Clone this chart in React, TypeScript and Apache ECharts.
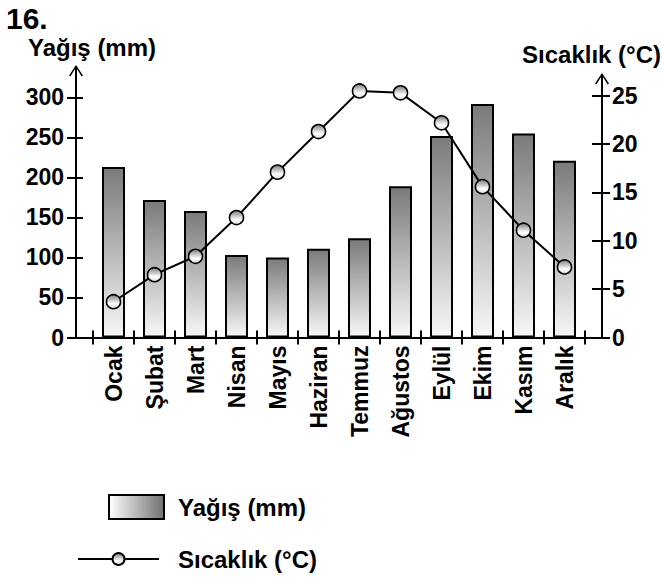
import React, { useEffect, useRef } from "react";
import * as echarts from "echarts";

const months = ["Ocak", "Şubat", "Mart", "Nisan", "Mayıs", "Haziran", "Temmuz", "Ağustos", "Eylül", "Ekim", "Kasım", "Aralık"];
const rainfall = [213, 172, 158, 103, 100, 111, 124, 189, 252, 292, 255, 221];
const temperature = [3.7, 6.5, 8.4, 12.4, 17.1, 21.3, 25.5, 25.3, 22.2, 15.6, 11.1, 7.3];
const rainTicks = [0, 50, 100, 150, 200, 250, 300];
const tempTicks = [0, 5, 10, 15, 20, 25];

const FONT = '"Liberation Sans", Arial, sans-serif';

export default function App() {
  const ref = useRef<HTMLDivElement>(null);
  useEffect(() => {
    document.body.style.margin = "0";
    const chart = echarts.init(ref.current!, null, { renderer: "svg" });
    const catIdx = months.map((_, i) => i);
    const bounds = months.map((_, i) => i - 0.5).concat([months.length - 0.5]);
    const arrowR = "path://M7,0L14,10.6L12.7,11.4L7,2.6L1.3,11.4L0,10.6Z M6,1L8,1L8,12L6,12Z";
    const arrowL = "path://M7,0L14,10.6L12.7,11.4L7,2.6L1.3,11.4L0,10.6Z M6,1L8,1L8,28L6,28Z";
    const barGrad = new echarts.graphic.LinearGradient(0, 0, 0, 1, [
      { offset: 0, color: "#7a7a7a" },
      { offset: 1, color: "#f7f7f7" },
    ]);
    const legendGrad = new echarts.graphic.LinearGradient(0, 0, 1, 0, [
      { offset: 0, color: "#ffffff" },
      { offset: 1, color: "#707070" },
    ]);
    const dotGrad = new echarts.graphic.LinearGradient(0, 0, 0, 1, [
      { offset: 0, color: "#7c7c7c" },
      { offset: 0.65, color: "#ffffff" },
      { offset: 1, color: "#d8d8d8" },
    ]);
    const axisLbl = { color: "#000", fontWeight: "bold" as const, fontFamily: FONT, fontSize: 23 };
    const xMin = -0.5 - 17 / 41;
    const xMax = months.length - 0.5 + 17 / 41;
    chart.setOption({
      animation: false,
      grid: { left: 76, right: 60, top: 79, bottom: 239.5, containLabel: false, outerBoundsMode: "none" },
      xAxis: [
        {
          type: "value", position: "bottom", min: xMin, max: xMax,
          axisLine: { show: true, onZero: false, lineStyle: { color: "#000", width: 2 } },
          axisTick: { show: true, inside: false, length: 7, customValues: bounds, lineStyle: { color: "#000", width: 2 } },
          axisLabel: { ...axisLbl, rotate: 90, margin: 8, customValues: catIdx, formatter: (v: number) => months[Math.round(v)] ?? "" },
          splitLine: { show: false },
        },
        {
          type: "value", position: "bottom", min: xMin, max: xMax,
          axisLine: { show: false, onZero: false },
          axisTick: { show: true, inside: true, length: 7, customValues: bounds, lineStyle: { color: "#000", width: 2 } },
          axisLabel: { show: false },
          splitLine: { show: false },
        },
      ],
      yAxis: [
        {
          type: "value", position: "left", min: 0, max: 323.1,
          axisLine: { show: true, onZero: false, symbol: ["none", arrowL], symbolSize: [14, 28], lineStyle: { color: "#000", width: 2 } },
          axisTick: { show: true, inside: false, length: 9, customValues: rainTicks, lineStyle: { color: "#000", width: 2 } },
          axisLabel: { ...axisLbl, margin: 12, customValues: rainTicks },
          splitLine: { show: false },
        },
        {
          type: "value", position: "left", min: 0, max: 323.1,
          axisLine: { show: false, onZero: false },
          axisTick: { show: true, inside: true, length: 7, customValues: rainTicks, lineStyle: { color: "#000", width: 2 } },
          axisLabel: { show: false },
          splitLine: { show: false },
        },
        {
          type: "value", position: "right", min: 0, max: 26.73,
          axisLine: { show: true, onZero: false, symbol: ["none", arrowR], symbolSize: [14, 12], lineStyle: { color: "#000", width: 2 } },
          axisTick: { show: true, inside: false, length: 8, customValues: tempTicks, lineStyle: { color: "#000", width: 2 } },
          axisLabel: { ...axisLbl, margin: 10, customValues: tempTicks },
          splitLine: { show: false },
        },
        {
          type: "value", position: "right", min: 0, max: 26.73,
          axisLine: { show: false, onZero: false },
          axisTick: { show: true, inside: true, length: 10, customValues: tempTicks, lineStyle: { color: "#000", width: 2 } },
          axisLabel: { show: false },
          splitLine: { show: false },
        },
      ],
      legend: [
        {
          left: 103, top: 489, itemWidth: 55, itemHeight: 24, orient: "vertical",
          data: [{ name: "Yağış (mm)", icon: "rect", itemStyle: { color: legendGrad, borderColor: "#000", borderWidth: 2 } }],
          textStyle: { color: "#000", fontWeight: "bold", fontFamily: FONT, fontSize: 24, padding: [0, 0, 0, 9] },
          selectedMode: false,
        },
        {
          left: 72, top: 542, itemWidth: 81, itemHeight: 15, orient: "vertical",
          data: [{ name: "Sıcaklık (°C)" }],
          textStyle: { color: "#000", fontWeight: "bold", fontFamily: FONT, fontSize: 24, padding: [0, 0, 0, 14] },
          selectedMode: false,
        },
      ],
      graphic: [
        { type: "text", left: 6, top: 3, style: { text: "16.", fill: "#000", font: `bold 30px ${FONT}` } },
        { type: "text", left: 28, top: 35, style: { text: "Yağış (mm)", fill: "#000", font: `bold 24px ${FONT}` } },
        { type: "text", right: 1, top: 42, style: { text: "Sıcaklık (°C)", fill: "#000", font: `bold 24px ${FONT}` } },
      ],
      series: [
        {
          name: "Yağış (mm)", type: "bar", xAxisIndex: 0, yAxisIndex: 0, barWidth: 23,
          data: rainfall.map((v, i) => [i, v]),
          itemStyle: { color: barGrad, borderColor: "#000", borderWidth: 2 },
          z: 2,
        },
        {
          name: "Sıcaklık (°C)", type: "line", xAxisIndex: 0, yAxisIndex: 2,
          data: temperature.map((v, i) => [i, v]),
          symbol: "circle", symbolSize: 14,
          lineStyle: { color: "#000", width: 2 },
          itemStyle: { color: dotGrad, borderColor: "#000", borderWidth: 1.6 },
          z: 3,
        },
      ],
    });
    return () => chart.dispose();
  }, []);
  return <div ref={ref} style={{ position: "absolute", left: 0, top: 0, width: 662, height: 577 }} />;
}
